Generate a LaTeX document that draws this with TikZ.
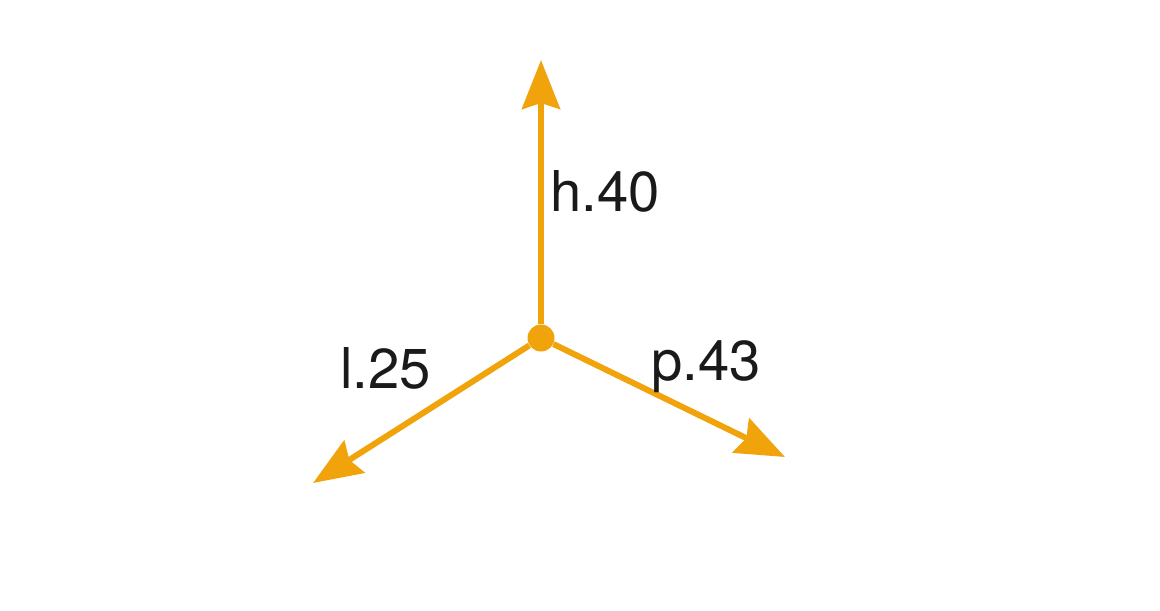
\documentclass[tikz,border=0pt]{standalone}
\usepackage{fontspec}
\setmainfont{TeX Gyre Heros}
\usepackage{tikz}
\usetikzlibrary{positioning,arrows.meta}
\definecolor{axisorange}{HTML}{F0A30A}
\definecolor{labelink}{HTML}{1A1A1A}

\begin{document}
\begin{tikzpicture}[
  hub/.style={
    circle, fill=axisorange, draw=none,
    minimum size=5.4mm, inner sep=0pt
  },
  lbl/.style={
    anchor=base west, inner sep=0pt, text=labelink,
    font=\fontsize{32}{37}\selectfont
  },
  arr/.style={
    draw=axisorange, line width=3.4pt,
    -{Stealth[length=9.8mm, width=7.6mm, inset=1.2mm]}
  }
]
\useasboundingbox (0,0) rectangle (23.2,12.2);

% centre and arrow ends
\node[hub] (o) at (10.82,5.44) {};
\coordinate (h) at (10.82,11.0);
\coordinate (l) at (6.26,2.54);
\coordinate (p) at (15.70,3.06);

% axes
\draw[arr] (o) -- (h);
\draw[arr] (o) -- (l);
\draw[arr] (o) -- (p);

% labels
\node[lbl] (hlabel) at (11.0,7.96) {h.40};
\node[lbl] (llabel) at (6.80,4.44) {l.25};
\node[lbl] (plabel) at (13.02,4.60) {p.43};
\end{tikzpicture}
\end{document}
